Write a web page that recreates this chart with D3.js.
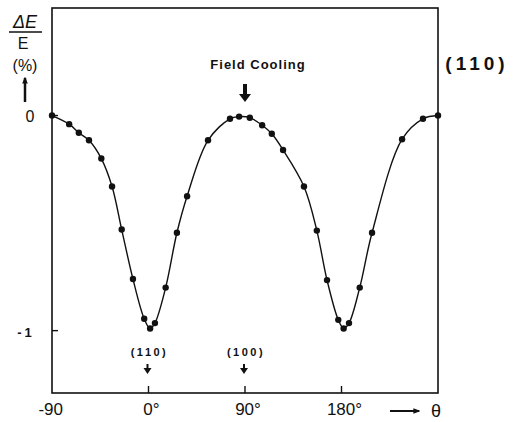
<!DOCTYPE html>
<html>
<head>
<meta charset="utf-8">
<script src="https://cdn.jsdelivr.net/npm/d3@7"></script>
<style>
  body { margin: 0; background: #fff; }
  text { font-family: "Liberation Sans", "DejaVu Sans", sans-serif; fill: #111; }
</style>
</head>
<body>
<div id="chart"></div>
<script>
var w = 516;
var h = 422;

// measured points (theta in degrees, relative strain change in %)
var theta = [-90, -74, -65, -55.5, -44, -34, -25, -14.5, -4, 1.5, 6, 16, 26.5, 36, 55.5,
  76, 84.5, 94.5, 106, 115, 125.5, 145, 157, 166.5, 177, 182, 187, 197, 208.5, 236.5, 256, 270];
var strain = [0, -0.04, -0.08, -0.115, -0.2, -0.33, -0.53, -0.76, -0.945, -0.99, -0.965, -0.8, -0.545, -0.375, -0.115,
  -0.015, -0.005, -0.01, -0.045, -0.085, -0.16, -0.33, -0.535, -0.765, -0.95, -0.99, -0.965, -0.8, -0.545, -0.11, -0.015, 0];

var xTicks = [-90, 0, 90, 180];
var xTickLabels = ["-90", "0°", "90°", "180°"];
var yTicks = [0, -1];
var yTickLabels = ["0", "-1"];
var dirTheta = [0, 90];
var dirLabels = ["(110)", "(100)"];

var x = d3.scaleLinear().domain([-90, 270]).range([52, 438]);
var y = d3.scaleLinear().domain([-1.29, 0.5]).range([393, 8]);

var svg = d3.select("#chart").append("svg")
  .attr("width", w)
  .attr("height", h);

svg.append("rect").attr("width", w).attr("height", h).style("fill", "#fff");

var defs = svg.append("defs");
defs.append("marker")
  .attr("id", "head")
  .attr("viewBox", "0 0 10 10")
  .attr("refX", 8).attr("refY", 5)
  .attr("markerWidth", 7).attr("markerHeight", 7)
  .attr("markerUnits", "userSpaceOnUse")
  .attr("orient", "auto")
  .append("path").attr("d", "M0,1L10,5L0,9Z").style("fill", "#111");

// frame
svg.append("rect")
  .attr("x", x(-90)).attr("y", y(0.5))
  .attr("width", x(270) - x(-90)).attr("height", y(-1.29) - y(0.5))
  .style("fill", "none").style("stroke", "#111").style("stroke-width", 1.6);

// ticks, drawn inward
svg.selectAll(".xtick")
  .data(xTicks.filter(function(d) { return d > -90; }))
  .enter().append("line")
  .attr("x1", function(d) { return x(d); }).attr("x2", function(d) { return x(d); })
  .attr("y1", y(-1.29)).attr("y2", y(-1.29) - 7)
  .style("stroke", "#111").style("stroke-width", 1.4);

svg.selectAll(".ytick")
  .data(yTicks)
  .enter().append("line")
  .attr("x1", x(-90)).attr("x2", x(-90) + 6)
  .attr("y1", function(d) { return y(d); }).attr("y2", function(d) { return y(d); })
  .style("stroke", "#111").style("stroke-width", 1.4);

// tick labels
svg.selectAll(".xlab")
  .data(xTicks)
  .enter().append("text")
  .attr("x", function(d, i) { return i == 0 ? x(d) + 11 : x(d) + 3; })
  .attr("y", 415)
  .attr("text-anchor", function(d, i) { return i == 0 ? "end" : "middle"; })
  .style("font-size", "17px")
  .text(function(d, i) { return xTickLabels[i]; });

svg.selectAll(".ylab")
  .data(yTicks)
  .enter().append("text")
  .attr("x", function(d, i) { return i == 0 ? 30 : 26; })
  .attr("y", function(d) { return y(d) + 6; })
  .attr("text-anchor", "middle")
  .style("font-size", function(d, i) { return i == 0 ? "16px" : "13px"; })
  .style("font-weight", function(d, i) { return i == 0 ? "normal" : "bold"; })
  .style("letter-spacing", function(d, i) { return i == 0 ? "0px" : "3px"; })
  .text(function(d, i) { return yTickLabels[i]; });

// y title
svg.append("text").attr("x", 25).attr("y", 28).attr("text-anchor", "middle")
  .style("font-size", "18px").style("font-style", "italic").text("ΔE");
svg.append("line").attr("x1", 9).attr("x2", 42).attr("y1", 32).attr("y2", 32)
  .style("stroke", "#111").style("stroke-width", 1.3);
svg.append("text").attr("x", 23).attr("y", 49).attr("text-anchor", "middle")
  .style("font-size", "16px").text("E");
svg.append("text").attr("x", 25).attr("y", 71).attr("text-anchor", "middle")
  .style("font-size", "16px").text("(%)");
svg.append("line").attr("x1", 25).attr("x2", 25).attr("y1", 102).attr("y2", 78)
  .style("stroke", "#111").style("stroke-width", 2.5).attr("marker-end", "url(#head)");

// x title
svg.append("line").attr("x1", 390).attr("x2", 419).attr("y1", 411).attr("y2", 411)
  .style("stroke", "#111").style("stroke-width", 2).attr("marker-end", "url(#head)");
svg.append("text").attr("x", 436).attr("y", 417).attr("text-anchor", "middle")
  .style("font-size", "18px").text("θ");

// plane label
svg.append("text").attr("x", 477).attr("y", 70).attr("text-anchor", "middle")
  .style("font-size", "19px").style("font-weight", "bold").style("letter-spacing", "4px")
  .text("(110)");

// field cooling annotation
svg.append("text").attr("x", 258).attr("y", 69).attr("text-anchor", "middle")
  .style("font-size", "13px").style("font-weight", "bold").style("letter-spacing", "1px")
  .text("Field Cooling");
svg.append("path")
  .attr("d", "M" + (x(90) - 2) + ",84V94H" + (x(90) - 6) + "L" + x(90) + ",102L" + (x(90) + 6) + ",94H" + (x(90) + 2) + "V84Z")
  .style("fill", "#111");

// crystal direction labels
svg.selectAll(".dir")
  .data(dirTheta)
  .enter().append("text")
  .attr("x", function(d) { return x(d) + 1; })
  .attr("y", 356)
  .attr("text-anchor", "middle")
  .style("font-size", "11px").style("font-weight", "bold").style("letter-spacing", "2.5px")
  .text(function(d, i) { return dirLabels[i]; });
svg.selectAll(".dirArrow")
  .data(dirTheta)
  .enter().append("path")
  .attr("d", function(d) {
    var cx = x(d) - 1;
    return "M" + (cx - 1) + ",364V368H" + (cx - 4) + "L" + cx + ",374L" + (cx + 4) + ",368H" + (cx + 1) + "V364Z";
  })
  .style("fill", "#111");

// curve and points
var pts = theta.map(function(t, i) { return [t, strain[i]]; });

var line = d3.line()
  .x(function(d) { return x(d[0]); })
  .y(function(d) { return y(d[1]); })
  .curve(d3.curveCatmullRom.alpha(0.5));

svg.append("path")
  .datum(pts)
  .attr("d", line)
  .style("fill", "none")
  .style("stroke", "#111")
  .style("stroke-width", 1.4);

svg.selectAll(".dot")
  .data(pts)
  .enter().append("circle")
  .attr("cx", function(d) { return x(d[0]); })
  .attr("cy", function(d) { return y(d[1]); })
  .attr("r", 3.2)
  .style("fill", "#111");
</script>
</body>
</html>
